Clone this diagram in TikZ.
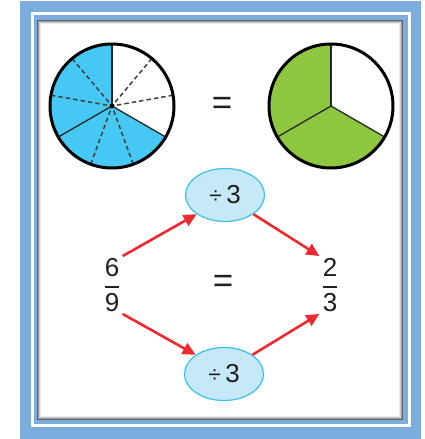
\documentclass[tikz,border=0pt]{standalone}
\usepackage{amsmath}
\usepackage{fontspec}
\setmainfont{Liberation Sans}
\usetikzlibrary{arrows.meta,shapes.geometric,positioning,calc}
\definecolor{frameblue}{HTML}{7BAEDE}
\definecolor{skyblue}{HTML}{45C8F4}
\definecolor{leafgreen}{HTML}{8DC63F}
\definecolor{ovalfill}{HTML}{C6E9F9}
\definecolor{ovalline}{HTML}{3CBFEF}
\definecolor{arrowred}{HTML}{EE2A30}
\definecolor{ink}{HTML}{231F20}

\begin{document}
\begin{tikzpicture}[x=1pt,y=1pt,
    divnode/.style={ellipse, draw=ovalline, fill=ovalfill, line width=1.2pt,
        minimum width=79pt, minimum height=53pt, inner sep=0pt,
        font=\fontsize{26}{30}\selectfont, text=ink},
    fracnode/.style={inner sep=2pt, font=\fontsize{26}{30}\selectfont, text=ink},
    eqnode/.style={inner sep=0pt, font=\fontsize{35}{40}\selectfont, text=ink},
    redarrow/.style={-{Triangle[length=13pt,width=12pt]}, line width=2.6pt, arrowred}]
    \useasboundingbox (0,0) rectangle (424,439);

    % Outer frame
    \fill[frameblue] (20,0) rectangle (421,438);
    \fill[white] (31,12) rectangle (411,427);
    \fill[frameblue] (34,15) rectangle (408,424);

    % Inner panel with soft shadow
    \fill[white] (37,19) rectangle (403,419);
    \foreach \i/\c in {0.5/60,1.5/38,2.5/20,3.5/8} {
        \draw[black!\c, line width=1pt] (37+\i,19+\i) rectangle (403-\i,419-\i);
    }

    % Left pie: 6 of 9 parts
    \coordinate (pieL) at (112,333);
    \fill[skyblue] (pieL) -- ++(90:62) arc[start angle=90, end angle=330, radius=62] -- cycle;
    \foreach \a in {10,50,130,170,250,290} {
        \draw[black!75, line width=1.5pt, dash pattern=on 4.5pt off 3pt] ($(pieL)+(\a:5)$) -- ($(pieL)+(\a:61)$);
    }
    \foreach \a in {90,210,330} {
        \draw[black!85, line width=1.3pt] (pieL) -- ++(\a:62);
    }
    \fill[black] (pieL) circle (2.5);
    \draw[black, line width=3pt] (pieL) circle (62);

    % Right pie: 2 of 3 parts
    \coordinate (pieR) at (331,333);
    \fill[leafgreen] (pieR) -- ++(90:62) arc[start angle=90, end angle=330, radius=62] -- cycle;
    \foreach \a in {90,210,330} {
        \draw[black!85, line width=1.3pt] (pieR) -- ++(\a:62);
    }
    \draw[black, line width=3pt] (pieR) circle (62);

    \node[eqnode] (eqtop) at (222,333) {=};

    % Fractions
    \node[fracnode] (frac69) at (112,154) {$\genfrac{}{}{1.8pt}{0}{\mbox{6}}{\mbox{9}}$};
    \node[fracnode] (frac23) at (330,154) {$\genfrac{}{}{1.8pt}{0}{\mbox{2}}{\mbox{3}}$};
    \node[eqnode] (eqmid) at (223,155) {=};

    % Division ovals
    \node[divnode] (divtop) at (225,244) {{\fontsize{23}{26}\selectfont÷}\,3};
    \node[divnode] (divbot) at (224,65) {{\fontsize{23}{26}\selectfont÷}\,3};

    % Arrows
    \draw[redarrow] (frac69.north east) -- (divtop.south west);
    \draw[redarrow] (divtop.south east) -- (frac23.north west);
    \draw[redarrow] (frac69.south east) -- (divbot.north west);
    \draw[redarrow] (divbot.north east) -- (frac23.south west);

\end{tikzpicture}
\end{document}
